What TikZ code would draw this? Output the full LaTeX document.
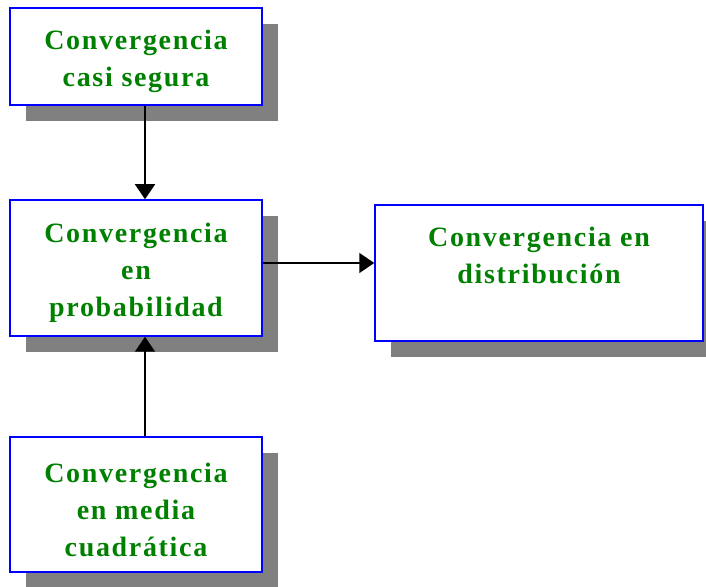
\documentclass[tikz,border=0pt]{standalone}
\usepackage{fontspec}
\newfontfamily\boxfont[LetterSpace=6]{Liberation Serif}
\usetikzlibrary{arrows.meta, shadows}
\definecolor{boxgreen}{RGB}{0,128,0}
\definecolor{boxblue}{RGB}{0,0,255}
\definecolor{shadowgray}{RGB}{128,128,128}
% texto de caja, algo bajado
\newcommand{\boxlines}[1]{\parbox[c]{240pt}{\centering\vspace*{10pt}#1}}
\tikzset{
  convbox/.style = {draw = boxblue, line width = 1.5pt, fill = white,
    minimum width = 252pt, inner sep = 0pt,
    text = boxgreen, font = \boxfont\bfseries\fontsize{28pt}{37pt}\selectfont,
    drop shadow = {shadow xshift = 16pt, shadow yshift = -16pt,
      fill = shadowgray, opacity = 1}},
  implies/.style = {line width = 1.5pt, -{Triangle[width = 20pt, length = 15pt]}}
}
\begin{document}
\begin{tikzpicture}[x = 1pt, y = 1pt]
\useasboundingbox (0,0) rectangle (706,586);
% cajas
\node[convbox, minimum height = 97pt] (cs) at (136,529.5) {\boxlines{Convergencia\\casi segura}};
\node[convbox, minimum height = 136pt] (prob) at (136,318) {\boxlines{Convergencia\\en\\probabilidad}};
\node[convbox, minimum width = 328pt, minimum height = 136pt] (dist) at (539,313)
  {\parbox[t][104pt][t]{320pt}{\centering\vspace*{6pt}Convergencia en\\distribución}};
\node[convbox, minimum height = 135pt] (mc) at (136,81.5) {\boxlines{Convergencia\\en media\\cuadrática}};
% implicaciones
\draw[implies] ([xshift = 9pt]cs.south) -- ([xshift = 9pt]prob.north);
\draw[implies] ([xshift = 9pt]mc.north) -- ([xshift = 9pt]prob.south);
\draw[implies] ([yshift = 5pt]prob.east) -- ([yshift = 5pt]prob.east -| dist.west);
\end{tikzpicture}
\end{document}
